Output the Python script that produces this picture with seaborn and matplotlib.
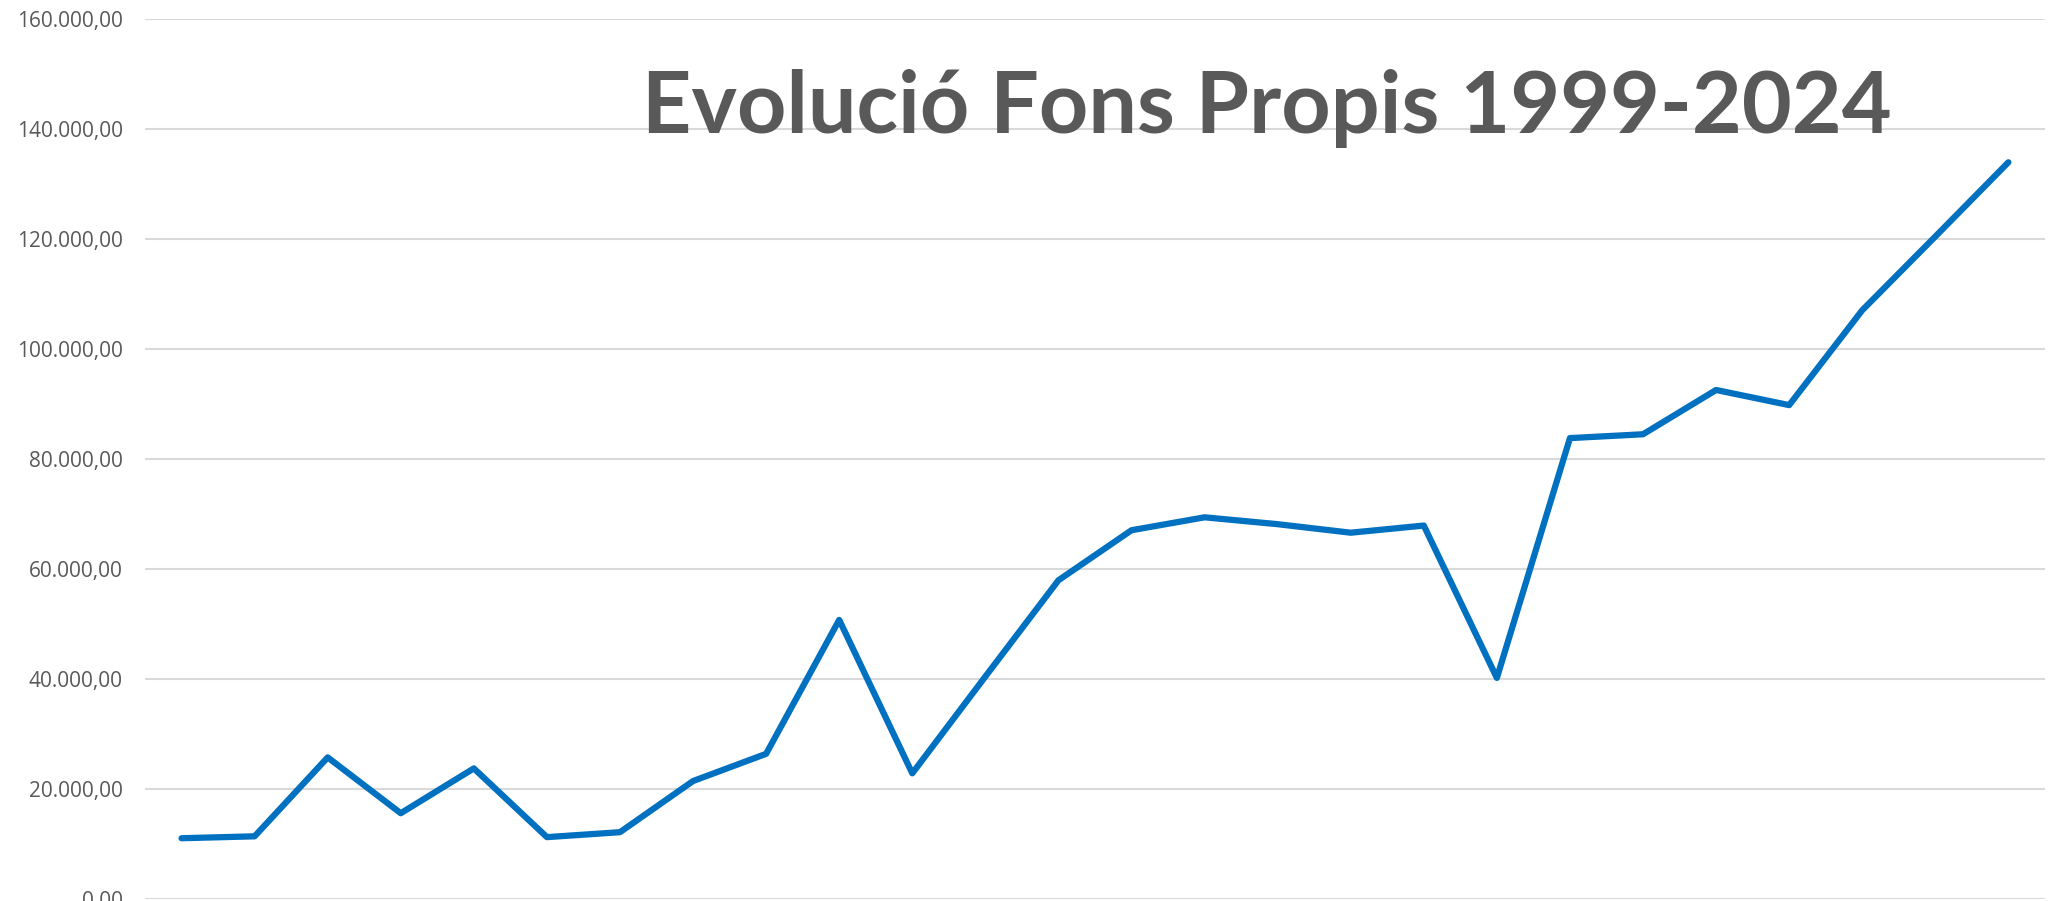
import pandas as pd
import matplotlib
matplotlib.use("Agg")
import matplotlib.pyplot as plt
import seaborn as sns
from matplotlib.ticker import FuncFormatter, MultipleLocator

years = list(range(1999, 2025))
fons_propis = [
    11100, 11450, 25800, 15650, 23800, 11300, 12200, 21500, 26450, 50800,
    22900, 40500, 58000, 67100, 69450, 68200, 66650, 67950, 40250, 83850,
    84550, 92600, 89850, 107100, 120500, 134000,
]
title = "Evolució Fons Propis 1999-2024"

GREY_TXT = "#595959"
GRID = "#D9D9D9"
BLUE = "#0070C0"


def fmt_es(v, pos=None):
    # 160000 -> 160.000,00
    s = f"{v:,.2f}"
    return s.replace(",", "X").replace(".", ",").replace("X", ".")


def build_chart(df):
    sns.set_theme(style="white")
    plt.rcParams["font.family"] = ["Open Sans", "DejaVu Sans"]

    fig = plt.figure(figsize=(20.48, 9.01), dpi=100)
    ax = fig.add_axes([0.0708, 0.0019, 0.9277, 0.9767])

    sns.lineplot(
        data=df, x="year", y="value", ax=ax,
        color=BLUE, linewidth=4.5,
        solid_joinstyle="round", solid_capstyle="round",
    )

    ax.set_xlim(years[0] - 0.5, years[-1] + 0.5)
    ax.set_ylim(0, 160000)
    ax.yaxis.set_major_locator(MultipleLocator(20000))
    ax.yaxis.set_major_formatter(FuncFormatter(fmt_es))

    ax.grid(axis="y", color=GRID, linewidth=1.5)
    ax.set_axisbelow(True)
    for s in ax.spines.values():
        s.set_visible(False)

    ax.set_xticks([])
    ax.set_xlabel("")
    ax.set_ylabel("")
    ax.tick_params(axis="y", length=0, pad=16, labelsize=15, labelcolor=GREY_TXT)

    fig.text(
        0.6187, 0.8524, title,
        ha="center", va="baseline",
        fontsize=62, fontweight="bold", color=GREY_TXT,
        family=["Lato", "DejaVu Sans"],
    )
    return fig


if __name__ == "__main__":
    df = pd.DataFrame({"year": years, "value": fons_propis})
    fig = build_chart(df)
    fig.savefig("out.png", dpi=100)
